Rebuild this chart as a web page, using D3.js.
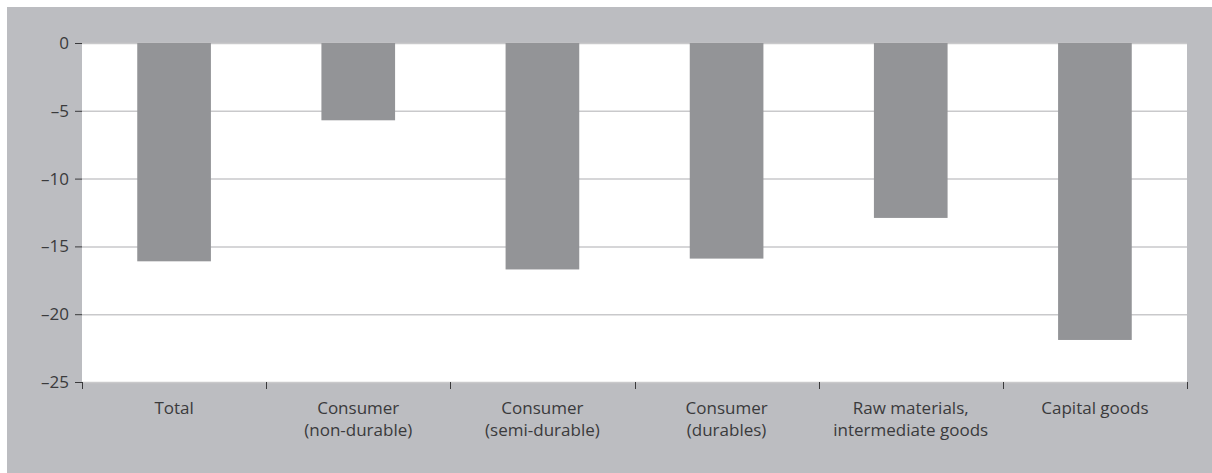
<!DOCTYPE html>
<html>
<head>
<meta charset="utf-8">
<script src="https://cdn.jsdelivr.net/npm/d3@7"></script>
<style>
  html, body { margin: 0; padding: 0; background: #ffffff; }
  svg { display: block; }
  text { font-family: "Open Sans", "Noto Sans", sans-serif; fill: #3a3a3c; }
</style>
</head>
<body>
<svg id="chart" width="1212" height="473"></svg>
<script>
// ---- data ----
const categories = ["Total", "Consumer (non-durable)", "Consumer (semi-durable)", "Consumer (durables)", "Raw materials, intermediate goods", "Capital goods"];
const categoryLabels = [
  ["Total"],
  ["Consumer", "(non-durable)"],
  ["Consumer", "(semi-durable)"],
  ["Consumer", "(durables)"],
  ["Raw materials,", "intermediate goods"],
  ["Capital goods"]
];
const values = [-16.1, -5.7, -16.7, -15.9, -12.9, -21.9];
const yTicks = [0, -5, -10, -15, -20, -25];

// ---- layout ----
const W = 1212, H = 473;
const plot = { left: 82, top: 43, right: 1187, bottom: 382 };

const svg = d3.select("#chart");

// outer grey panel
svg.append("rect")
  .attr("x", 7).attr("y", 7)
  .attr("width", W - 7).attr("height", H - 7)
  .attr("fill", "#bcbdc1");

// white plot area
svg.append("rect")
  .attr("x", plot.left).attr("y", plot.top)
  .attr("width", plot.right - plot.left).attr("height", plot.bottom - plot.top)
  .attr("fill", "#ffffff");

const x = d3.scaleBand()
  .domain(categories)
  .range([plot.left, plot.right])
  .paddingInner(0.6)
  .paddingOuter(0.3);

const y = d3.scaleLinear()
  .domain([-25, 0])
  .range([plot.bottom, plot.top]);

// gridlines
svg.append("g")
  .selectAll("line")
  .data(yTicks)
  .join("line")
  .attr("x1", plot.left).attr("x2", plot.right)
  .attr("y1", d => y(d) + 0.5).attr("y2", d => y(d) + 0.5)
  .attr("stroke", "#c9c9cb")
  .attr("stroke-width", 1.5);

// bars
svg.append("g")
  .selectAll("rect")
  .data(values)
  .join("rect")
  .attr("x", (d, i) => x(categories[i]))
  .attr("y", d => y(0))
  .attr("width", x.bandwidth())
  .attr("height", d => y(d) - y(0))
  .attr("fill", "#939497");

// y axis
const fmt = d => d < 0 ? "\u2013" + Math.abs(d) : String(d);
const yAxis = d3.axisLeft(y)
  .tickValues(yTicks)
  .tickFormat(fmt)
  .tickSize(7)
  .tickPadding(6);
const gy = svg.append("g")
  .attr("transform", `translate(${plot.left},0)`)
  .call(yAxis);
gy.select(".domain").remove();
gy.selectAll(".tick line").attr("stroke", "#3a3a3c").attr("stroke-width", 1);
gy.selectAll(".tick text")
  .attr("font-size", 17)
  .attr("font-family", "'Open Sans', 'Noto Sans', sans-serif")
  .attr("fill", "#3a3a3c");

// x axis boundary ticks (band edges)
const step = x.step();
const edges = d3.range(categories.length + 1).map(i => plot.left + i * step);
svg.append("g")
  .selectAll("line")
  .data(edges)
  .join("line")
  .attr("x1", d => Math.round(d) + 0.5).attr("x2", d => Math.round(d) + 0.5)
  .attr("y1", plot.bottom).attr("y2", plot.bottom + 7)
  .attr("stroke", "#3a3a3c")
  .attr("stroke-width", 1);

// x labels
const gx = svg.append("g");
categories.forEach((c, i) => {
  const cx = x(c) + x.bandwidth() / 2;
  const t = gx.append("text")
    .attr("x", cx)
    .attr("y", 414)
    .attr("text-anchor", "middle")
    .attr("font-size", 17);
  categoryLabels[i].forEach((line, j) => {
    t.append("tspan")
      .attr("x", cx)
      .attr("dy", j === 0 ? 0 : 22)
      .text(line);
  });
});
</script>
</body>
</html>
